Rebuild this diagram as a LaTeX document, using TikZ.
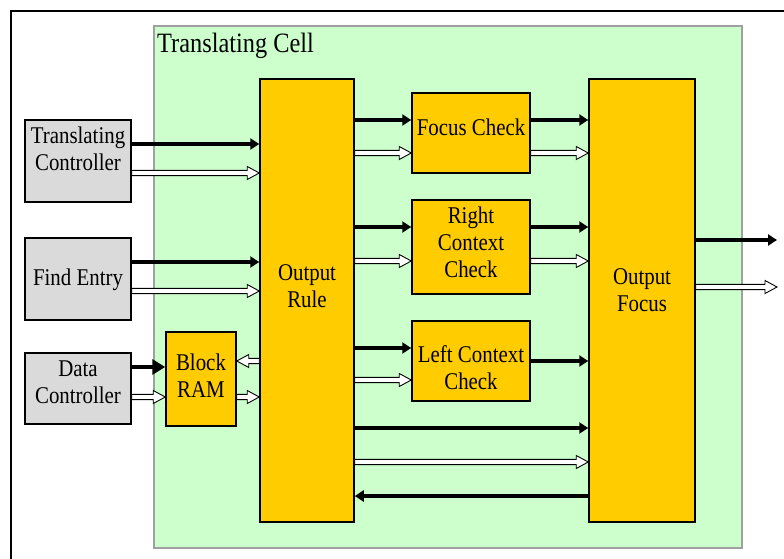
\documentclass[tikz,border=0pt]{standalone}
\usepackage{fontspec}
\setmainfont{Liberation Serif}
\newfontfamily\narrowserif[FakeStretch=0.87]{Liberation Serif}
\usetikzlibrary{arrows.meta,calc}
\definecolor{cellgreen}{HTML}{CCFFCC}
\definecolor{cellborder}{HTML}{A0A0A0}
\definecolor{unitfill}{HTML}{FFCC00}
\definecolor{extfill}{HTML}{DADADA}

\tikzset{
  unit/.style={draw=black,line width=1.5pt,fill=unitfill,inner sep=0pt},
  ext/.style={unit,fill=extfill},
  unittext/.style={align=center,inner sep=0pt,font=\narrowserif\fontsize{24}{27}\selectfont},
  cellbox/.style={fill=cellgreen,draw=cellborder,line width=2pt},
  flow/.style={line width=3.5pt,-{Triangle[length=9pt,width=11pt]}},
  bigflow/.style={line width=3.5pt,-{Triangle[length=13pt,width=15pt]}},
  hollow/.style={draw=black,fill=white,line width=0.9pt,
    to path={let \p1=(\tikztostart), \p2=(\tikztotarget), \n1={sign(\x2-\x1)} in
      (\x1,\y1+2.6) -- (\x2-\n1*12,\y1+2.6) -- (\x2-\n1*12,\y1+6.5) -- (\x2,\y1)
      -- (\x2-\n1*12,\y1-6.5) -- (\x2-\n1*12,\y1-2.6) -- (\x1,\y1-2.6) -- cycle}}
}

\begin{document}
\begin{tikzpicture}[x=1pt,y=-1pt]
    \useasboundingbox (0,0) rectangle (784,559);
    % outer frame
    \draw[line width=2pt] (11,559) -- (11,11) -- (784,11);

    % Translating Cell
    \draw[cellbox] (154,26) rectangle (742,548);
    \node[anchor=base west,inner sep=0pt,font=\narrowserif\fontsize{28}{32}\selectfont] (celltitle) at (157,53) {Translating Cell};

    % controllers outside the cell
    \node[ext,minimum width=106,minimum height=82] (tc) at (78,161) {};
    \node[ext,minimum width=106,minimum height=82] (fe) at (78,279) {};
    \node[ext,minimum width=106,minimum height=71] (dc) at (78,388.5) {};
    \node[unittext] (tctext) at (78,149) {Translating\\Controller};
    \node[unittext] (fetext) at (78,280) {Find Entry};
    \node[unittext] (dctext) at (78,382) {Data\\Controller};

    % units inside the cell
    \node[unit,minimum width=70,minimum height=94] (br) at (201,379) {};
    \node[unit,minimum width=94,minimum height=443] (or) at (307,300.5) {};
    \node[unit,minimum width=118,minimum height=80] (fc) at (471,133) {};
    \node[unit,minimum width=118,minimum height=94] (rcc) at (471,247) {};
    \node[unit,minimum width=118,minimum height=80] (lcc) at (471,361) {};
    \node[unit,minimum width=106,minimum height=443] (of) at (642,300.5) {};
    \node[unittext] (brtext) at (201,376) {Block\\RAM};
    \node[unittext] (ortext) at (307,286) {Output\\Rule};
    \node[unittext] (fctext) at (471,127) {Focus Check};
    \node[unittext] (rcctext) at (471,242) {Right\\Context\\Check};
    \node[unittext] (lcctext) at (471,368) {Left Context\\Check};
    \node[unittext] (oftext) at (642,290) {Output\\Focus};

    % free ends of the outputs
    \coordinate (outA) at (777,240);
    \coordinate (outB) at (777,287);

    % inputs to Output Rule
    \draw[flow] (tc.east |- 0,144) -- (or.west |- 0,144);
    \draw[hollow] (tc.east |- 0,173) to (or.west |- 0,173);
    \draw[flow] (fe.east |- 0,262) -- (or.west |- 0,262);
    \draw[hollow] (fe.east |- 0,291) to (or.west |- 0,291);

    % Block RAM
    \draw[bigflow] (dc.east |- 0,367) -- (br.west |- 0,367);
    \draw[hollow] (dc.east |- 0,397) to (br.west |- 0,397);
    \draw[hollow] (or.west |- 0,361) to (br.east |- 0,361);
    \draw[hollow] (br.east |- 0,397) to (or.west |- 0,397);

    % Output Rule to the checks
    \draw[flow] (or.east |- 0,120) -- (fc.west |- 0,120);
    \draw[hollow] (or.east |- 0,153) to (fc.west |- 0,153);
    \draw[flow] (or.east |- 0,227) -- (rcc.west |- 0,227);
    \draw[hollow] (or.east |- 0,261) to (rcc.west |- 0,261);
    \draw[flow] (or.east |- 0,348) -- (lcc.west |- 0,348);
    \draw[hollow] (or.east |- 0,380) to (lcc.west |- 0,380);

    % Output Rule and Output Focus
    \draw[flow] (or.east |- 0,428) -- (of.west |- 0,428);
    \draw[hollow] (or.east |- 0,462) to (of.west |- 0,462);
    \draw[flow] (of.west |- 0,496) -- (or.east |- 0,496);

    % checks to Output Focus
    \draw[flow] (fc.east |- 0,120) -- (of.west |- 0,120);
    \draw[hollow] (fc.east |- 0,153) to (of.west |- 0,153);
    \draw[flow] (rcc.east |- 0,227) -- (of.west |- 0,227);
    \draw[hollow] (rcc.east |- 0,261) to (of.west |- 0,261);
    \draw[flow] (lcc.east |- 0,361) -- (of.west |- 0,361);

    % outputs
    \draw[flow] (of.east |- outA) -- (outA);
    \draw[hollow] (of.east |- outB) to (outB);
\end{tikzpicture}
\end{document}
